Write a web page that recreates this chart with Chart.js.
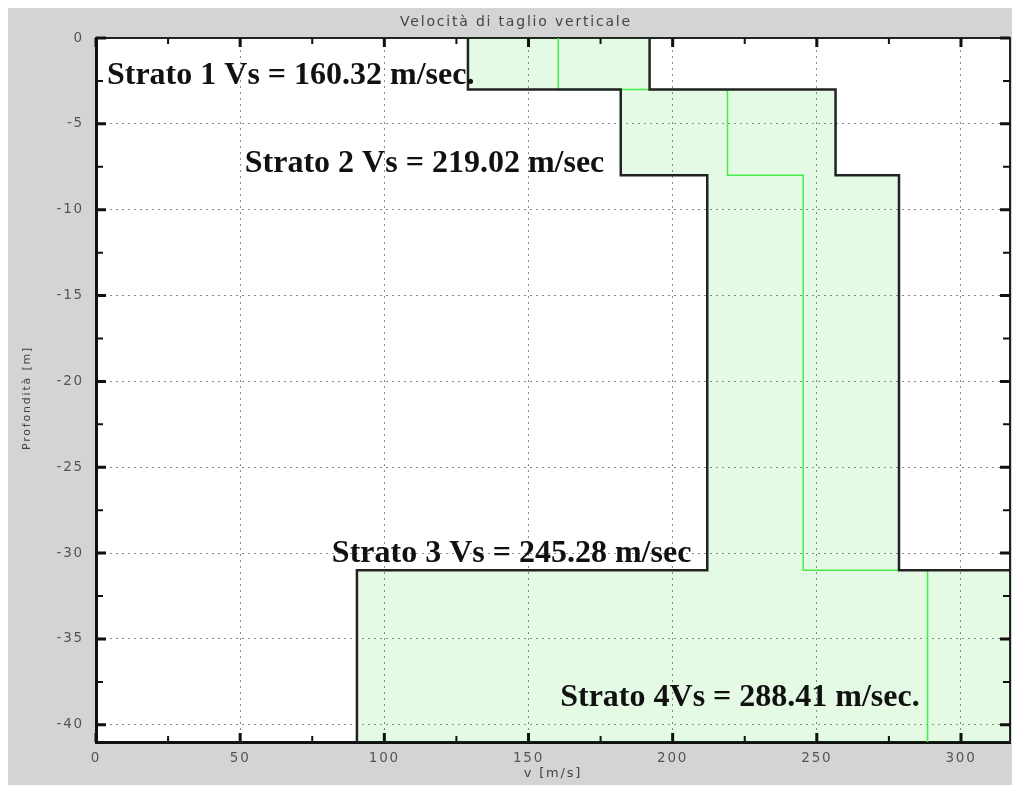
<!DOCTYPE html>
<html>
<head>
<meta charset="utf-8">
<script src="https://cdn.jsdelivr.net/npm/chart.js@4.4.1/dist/chart.umd.min.js"></script>
<style>
html, body { margin: 0; padding: 0; background: #fff; }
</style>
</head>
<body>
<canvas id="grafico" width="1012" height="785"></canvas>
<script>
// Profilo delle Vs per strati

const quotaTetto = [0, -3, -8, -31];
const quotaLetto = [-3, -8, -31, -41];
const vsMin      = [129, 182, 212, 90.5];
const vsMax      = [192, 256.5, 278.5, 330];
const vsMedia    = [160.32, 219.02, 245.28, 288.41];

const etichette = [
    'Strato 1 Vs = 160.32 m/sec.',
    'Strato 2 Vs = 219.02 m/sec',
    'Strato 3 Vs = 245.28 m/sec',
    'Strato 4Vs = 288.41 m/sec.'
];
// ancoraggio delle scritte in unità del grafico (v, profondità)
const posEtichette = [[3.8, -2.65], [51.6, -7.8], [81.8, -30.5], [161, -38.9]];

const xTicks = [0, 25, 50, 75, 100, 125, 150, 175, 200, 225, 250, 275, 300];
const yTicks = [0, -2.5, -5, -7.5, -10, -12.5, -15, -17.5, -20, -22.5, -25, -27.5, -30, -32.5, -35, -37.5, -40];

const X_MIN = 0, X_MAX = 317;
const Y_MIN = -41, Y_MAX = 0;

function gradini(v) {
    const pts = [];
    v.forEach((val, i) => {
        pts.push({ x: val, y: quotaTetto[i] });
        pts.push({ x: val, y: quotaLetto[i] });
    });
    return pts;
}

const fascia = gradini(vsMin).concat(gradini(vsMax).reverse());

const sfondo = {
    id: 'sfondo',
    beforeDraw(chart) {
        const { ctx, chartArea: a } = chart;
        ctx.save();
        ctx.fillStyle = '#ffffff';
        ctx.fillRect(0, 0, chart.width, chart.height);
        ctx.fillStyle = '#d4d4d4';
        ctx.fillRect(8, 8, chart.width - 8, chart.height - 8);
        ctx.fillStyle = '#ffffff';
        ctx.fillRect(a.left, a.top, a.right - a.left, a.bottom - a.top);
        ctx.restore();
        // testo degli assi un po' spaziato, come nell'originale
        ctx.letterSpacing = '1.8px';
    }
};

// tacche verso l'interno su tutti e quattro i lati
const tacche = {
    id: 'tacche',
    afterDatasetsDraw(chart) {
        const { ctx, chartArea: a, scales } = chart;
        ctx.save();
        ctx.strokeStyle = '#111';
        xTicks.forEach(v => {
            const px = scales.x.getPixelForValue(v);
            const major = v % 50 === 0;
            const l = major ? 9 : 6;
            ctx.lineWidth = major ? 3 : 2;
            ctx.beginPath();
            ctx.moveTo(px, a.bottom); ctx.lineTo(px, a.bottom - l);
            ctx.moveTo(px, a.top); ctx.lineTo(px, a.top + l);
            ctx.stroke();
        });
        yTicks.forEach(v => {
            const py = scales.y.getPixelForValue(v);
            const major = v % 5 === 0;
            const l = major ? 10 : 7;
            ctx.lineWidth = major ? 3 : 2;
            ctx.beginPath();
            ctx.moveTo(a.left, py); ctx.lineTo(a.left + l, py);
            ctx.moveTo(a.right, py); ctx.lineTo(a.right - l, py);
            ctx.stroke();
        });
        ctx.restore();
    }
};

const scritte = {
    id: 'scritte',
    afterDraw(chart) {
        const { ctx, scales } = chart;
        ctx.save();
        ctx.letterSpacing = '0px';
        ctx.font = 'bold 32px "Liberation Serif", "Times New Roman", serif';
        ctx.fillStyle = '#111';
        ctx.textAlign = 'left';
        ctx.textBaseline = 'alphabetic';
        etichette.forEach((t, i) => {
            const [v, z] = posEtichette[i];
            ctx.fillText(t, scales.x.getPixelForValue(v), scales.y.getPixelForValue(z));
        });
        ctx.restore();
    }
};

const fontTick = { family: 'DejaVu Sans', size: 13.5 };
const coloreGriglia = c => (c.tick && c.tick.value % (c.scale.axis === 'x' ? 50 : 5) === 0) ? '#8a8a8a' : 'rgba(0,0,0,0)';

new Chart(document.getElementById('grafico').getContext('2d'), {
    type: 'scatter',
    data: {
        datasets: [
            { data: gradini(vsMin), showLine: true, borderColor: '#222', borderWidth: 2.5, pointRadius: 0, fill: false, order: 1 },
            { data: gradini(vsMax), showLine: true, borderColor: '#222', borderWidth: 2.5, pointRadius: 0, fill: false, order: 1 },
            { data: gradini(vsMedia), showLine: true, borderColor: '#44ee44', borderWidth: 1.5, pointRadius: 0, fill: false, order: 2 },
            { data: fascia, showLine: true, borderWidth: 0, borderColor: 'rgba(0,0,0,0)', backgroundColor: 'rgba(0,210,0,0.1)', pointRadius: 0, fill: 'shape', order: 3 }
        ]
    },
    options: {
        responsive: false,
        animation: false,
        devicePixelRatio: 1,
        layout: { padding: { left: 20, top: 0, right: 0, bottom: 0 } },
        plugins: {
            legend: { display: false },
            tooltip: { enabled: false },
            title: { display: true, text: 'Velocità di taglio verticale', color: '#444',
                     font: { family: 'DejaVu Sans', size: 14, weight: 'normal' }, padding: { top: 14, bottom: 0 } }
        },
        scales: {
            x: {
                type: 'linear', position: 'bottom', min: X_MIN, max: X_MAX,
                afterBuildTicks: s => { s.ticks = xTicks.map(v => ({ value: v })); },
                afterFit: s => { s.height = 43; },
                ticks: { padding: 8, color: '#555', font: fontTick, maxRotation: 0, autoSkip: false,
                         callback: v => (v % 50 === 0 ? String(v) : '') },
                grid: { drawTicks: false, color: coloreGriglia, lineWidth: 1 },
                border: { display: true, color: '#111', width: 3, dash: [2, 4] },
                title: { display: true, text: 'v [m/s]', color: '#444', font: { family: 'DejaVu Sans', size: 13 }, padding: { top: 0, bottom: 4 } }
            },
            x2: {
                type: 'linear', position: 'top', min: X_MIN, max: X_MAX,
                afterFit: s => { s.height = 38 - 30.8; },
                ticks: { display: false },
                grid: { display: false },
                border: { display: true, color: '#222', width: 2 }
            },
            y: {
                type: 'linear', position: 'left', min: Y_MIN, max: Y_MAX,
                afterBuildTicks: s => { s.ticks = yTicks.map(v => ({ value: v })); },
                afterFit: s => { s.width = 76; },
                ticks: { padding: 12, color: '#555', font: fontTick, autoSkip: false,
                         callback: v => (v % 5 === 0 ? String(v) : '') },
                grid: { drawTicks: false, color: coloreGriglia, lineWidth: 1 },
                border: { display: true, color: '#111', width: 3, dash: [2, 4] },
                title: { display: true, text: 'Profondità [m]   ', color: '#444', font: { family: 'DejaVu Sans', size: 11 }, padding: { top: 1, bottom: 0 } }
            },
            y2: {
                type: 'linear', position: 'right', min: Y_MIN, max: Y_MAX,
                afterFit: s => { s.width = 2; },
                ticks: { display: false },
                grid: { display: false },
                border: { display: true, color: '#222', width: 2 }
            }
        }
    },
    plugins: [sfondo, tacche, scritte]
});
</script>
</body>
</html>
